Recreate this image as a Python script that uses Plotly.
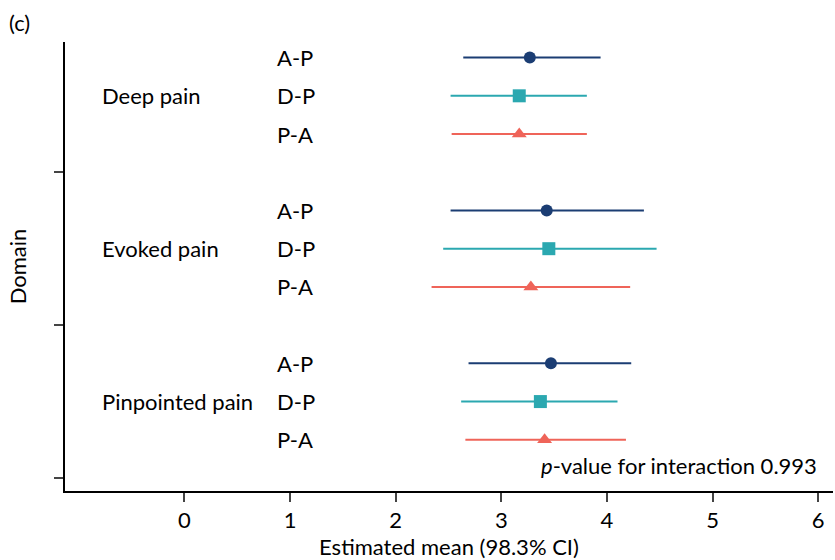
import plotly.graph_objects as go

domains = ["Deep pain", "Evoked pain", "Pinpointed pain"]
sequences = ["A-P", "D-P", "P-A"]
# estimates per sequence, order of domains
means = {
    "A-P": [3.27, 3.43, 3.47],
    "D-P": [3.17, 3.45, 3.37],
    "P-A": [3.17, 3.28, 3.41],
}
lower = {
    "A-P": [2.64, 2.52, 2.69],
    "D-P": [2.52, 2.45, 2.62],
    "P-A": [2.53, 2.34, 2.66],
}
upper = {
    "A-P": [3.94, 4.35, 4.23],
    "D-P": [3.81, 4.47, 4.10],
    "P-A": [3.81, 4.22, 4.18],
}
x_ticks = [0, 1, 2, 3, 4, 5, 6]
p_text = "<i>p</i>-value for interaction 0.993"

colors = {"A-P": "#1b3d73", "D-P": "#2ba8b0", "P-A": "#ef6459"}
symbols = {"A-P": "circle", "D-P": "square", "P-A": "triangle-up"}
sizes = {"A-P": 12, "D-P": 13, "P-A": 13}
offsets = {"A-P": 0.75, "D-P": 0.5, "P-A": 0.25}
# domain base (group bottom) on y scale
bases = {"Deep pain": 2, "Evoked pain": 1, "Pinpointed pain": 0}

FONT = "Lato"
FS = 22
fig = go.Figure()
for s in sequences:
    ys = [bases[d] + offsets[s] for d in domains]
    fig.add_trace(go.Scatter(
        x=means[s], y=ys, mode="markers",
        marker=dict(symbol=symbols[s], size=sizes[s], color=colors[s], line=dict(width=0)),
        error_x=dict(type="data", symmetric=False,
                     array=[u - m for u, m in zip(upper[s], means[s])],
                     arrayminus=[m - l for m, l in zip(means[s], lower[s])],
                     color=colors[s], thickness=2, width=0),
        showlegend=False, name=s,
    ))

ann = []
for d in domains:
    ann.append(dict(x=-0.80, y=bases[d] + 0.5, xref="x", yref="y", text=d,
                    showarrow=False, xanchor="left", yanchor="middle",
                    font=dict(family=FONT, size=FS, color="black")))
    for s in sequences:
        ann.append(dict(x=0.86, y=bases[d] + offsets[s], xref="x", yref="y", text=s,
                        showarrow=False, xanchor="left", yanchor="middle",
                        font=dict(family=FONT, size=FS, color="black")))
ann.append(dict(x=6.01, y=0.08, xref="x", yref="y", text=p_text, showarrow=False,
                xanchor="right", yanchor="middle", font=dict(family=FONT, size=FS, color="black")))
ann.append(dict(x=-0.076, y=1.078, xref="paper", yref="paper", text="(c)", showarrow=False,
                xanchor="left", yanchor="top", font=dict(family=FONT, size=22, color="black")))

fig.update_layout(
    width=835, height=560,
    margin=dict(l=65, r=2, t=42, b=69),
    paper_bgcolor="white", plot_bgcolor="white",
    font=dict(family=FONT, size=FS, color="black"),
    annotations=ann,
    xaxis=dict(range=[-1.13, 6.14], tickvals=x_ticks, ticks="outside", ticklen=9,
               tickwidth=1.5, showline=True, linewidth=2, linecolor="black",
               showgrid=False, zeroline=False, automargin=False,
               tickfont=dict(family=FONT, size=FS),
               title=dict(text="Estimated mean (98.3% CI)", font=dict(family=FONT, size=FS), standoff=14)),
    yaxis=dict(range=[-0.085, 2.852], tickvals=[0, 1, 2], ticktext=["", "", ""], ticks="outside",
               ticklen=9, tickwidth=1.5, showline=True, linewidth=2, linecolor="black",
               showgrid=False, zeroline=False, automargin=False,
               title=dict(text="Domain", font=dict(family=FONT, size=FS), standoff=17)),
)
fig.write_html("out.html")
